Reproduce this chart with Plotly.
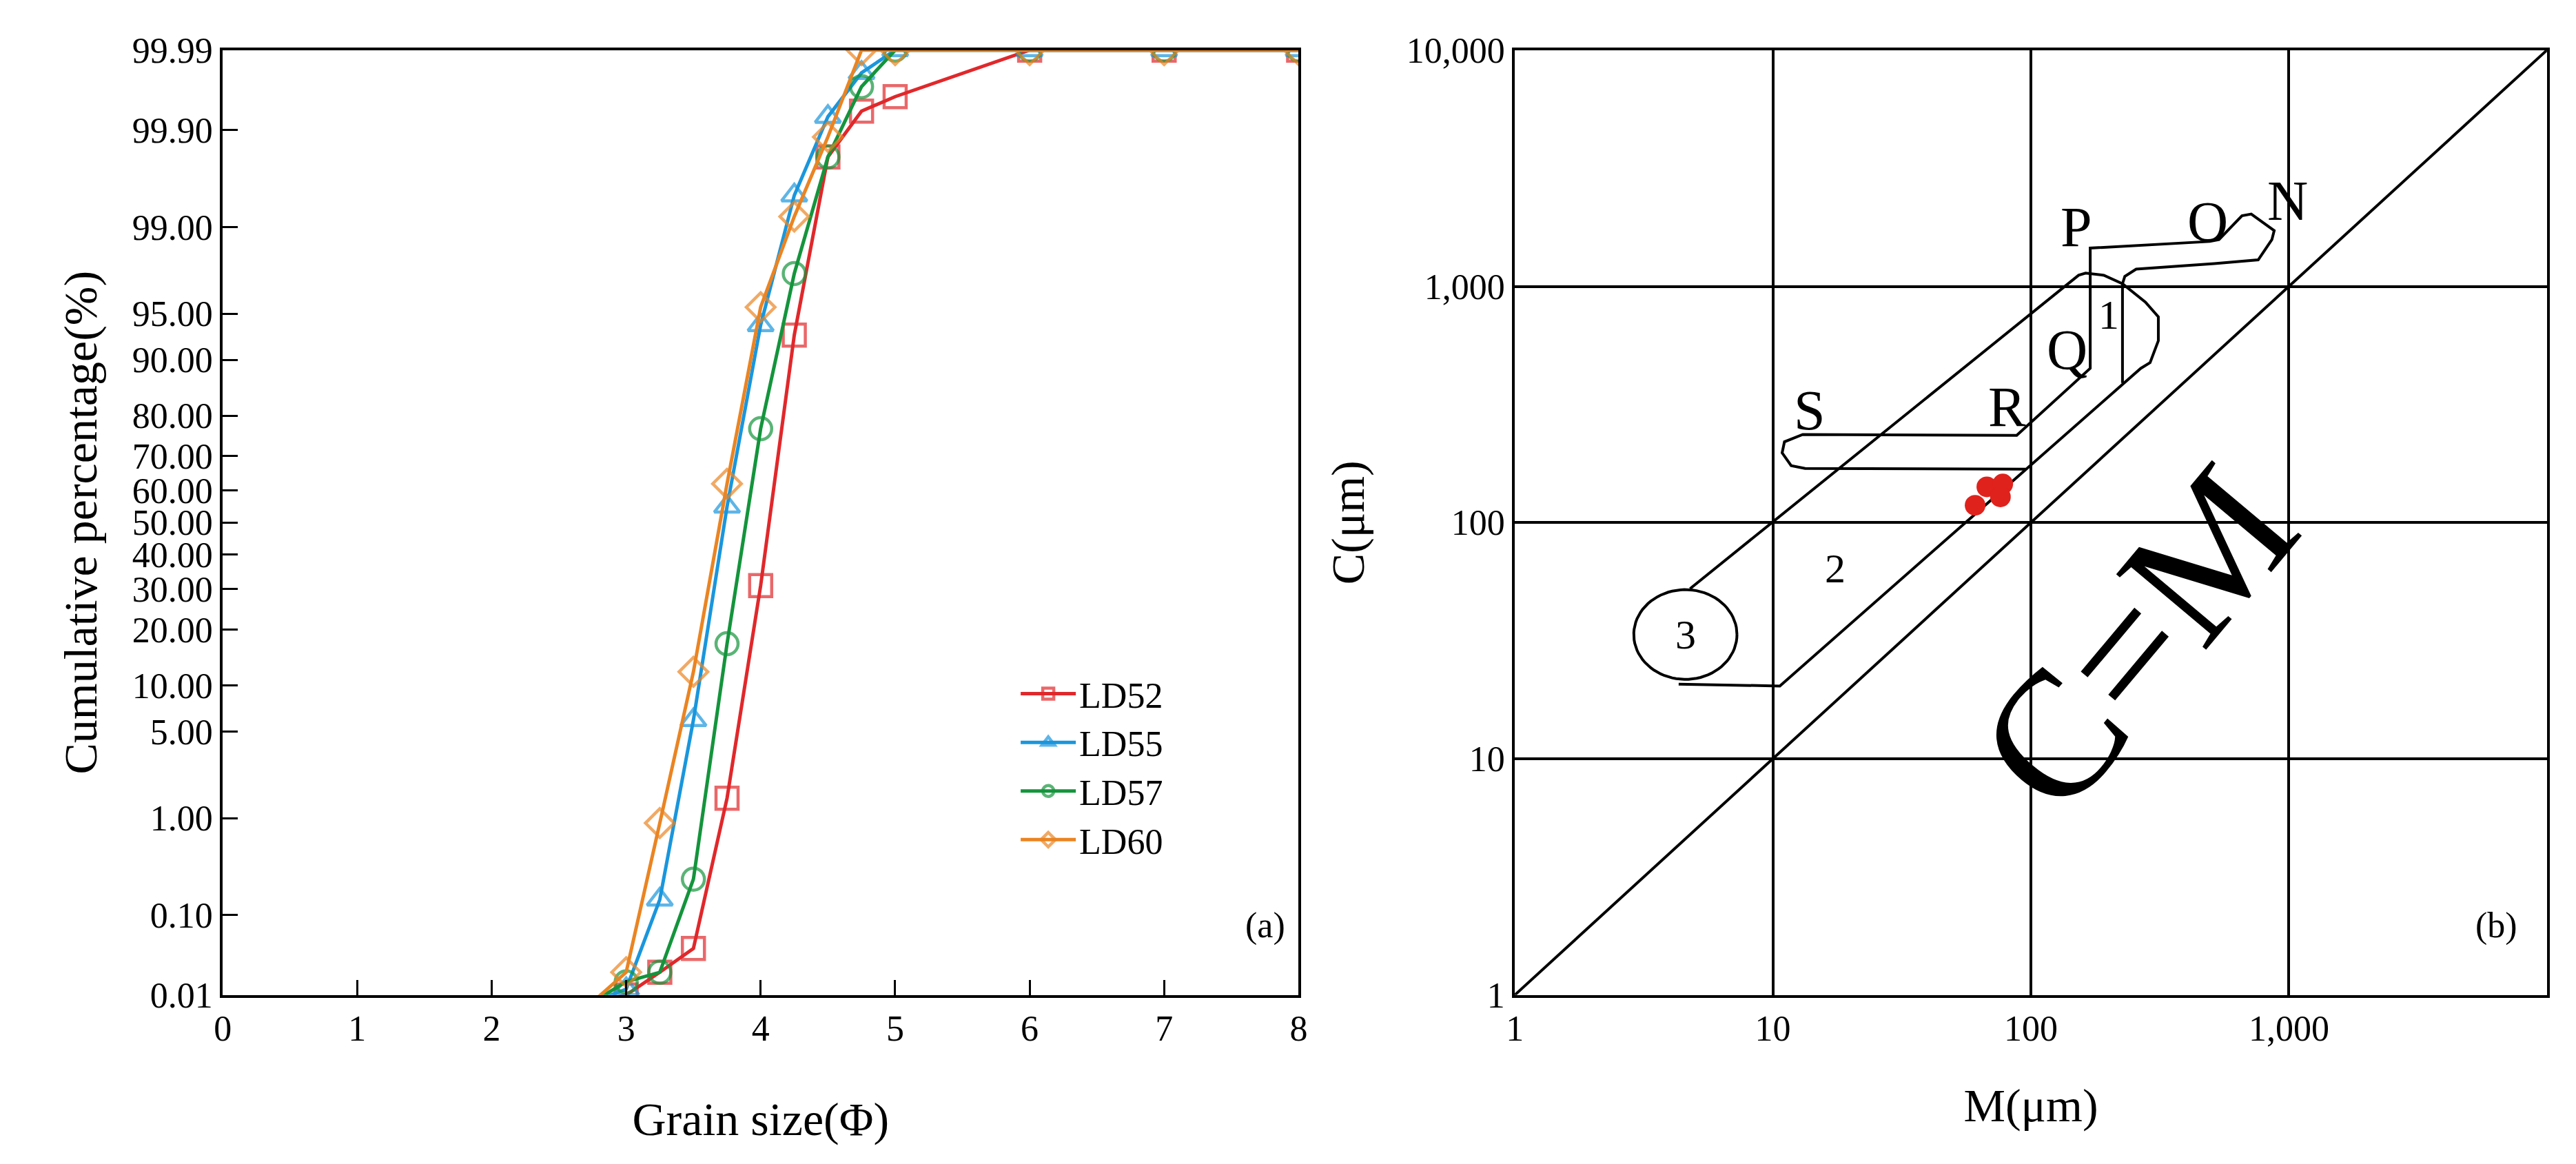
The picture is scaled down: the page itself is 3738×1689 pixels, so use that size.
import numpy as np
import plotly.graph_objects as go
from statistics import NormalDist

# ---------------- data: panel (a) ----------------
phi = [2.75, 3.0, 3.25, 3.5, 3.75, 4.0, 4.25, 4.5, 4.75, 5.0, 6.0, 7.0, 8.0]
LD52 = [0.008, 0.01, 0.02, 0.04, 1.5, 31, 93, 99.8, 99.94, 99.96, 99.99, 99.99, 99.99]
LD55 = [0.008, 0.012, 0.15, 6.0, 55, 94, 99.5, 99.93, 99.98, 99.99, 99.99, 99.99, 99.99]
LD57 = [0.008, 0.015, 0.02, 0.25, 17, 77, 97.5, 99.8, 99.97, 99.99, 99.99, 99.99, 99.99]
LD60 = [0.008, 0.02, 0.9, 12, 62, 95.5, 99.2, 99.88, 99.99, 99.99, 99.99, 99.99, 99.99]
y_ticks = [0.01, 0.10, 1.00, 5.00, 10.00, 20.00, 30.00, 40.00, 50.00, 60.00,
           70.00, 80.00, 90.00, 95.00, 99.00, 99.90, 99.99]
x_ticks_a = [0, 1, 2, 3, 4, 5, 6, 7, 8]

# ---------------- data: panel (b) (log10 coordinates of the C-M outline) ----------------
outer_lx = [0.679, 2.185, 2.212, 2.283, 2.355, 2.444, 2.494, 2.494, 2.462, 2.426, 1.027, 0.635]
outer_ly = [1.720, 3.047, 3.056, 3.047, 3.011, 2.933, 2.871, 2.770, 2.677, 2.653, 1.308, 1.316]
v1_lx = [2.355, 2.355]
v1_ly = [3.011, 2.591]
pq_lx = [1.980, 1.125, 1.071, 1.036, 1.045, 1.116, 1.945, 2.230, 2.230, 2.693, 2.729, 2.818,
         2.854, 2.943, 2.934, 2.881, 2.711, 2.408, 2.364, 2.355]
pq_ly = [2.226, 2.229, 2.241, 2.295, 2.342, 2.373, 2.369, 2.653, 3.162, 3.190, 3.198, 3.299,
         3.306, 3.236, 3.198, 3.112, 3.096, 3.073, 3.042, 3.011]
sample_M = [67.5, 77.8, 76.2, 60.8]
sample_C = [141.6, 145.6, 128.5, 118.3]
labels = ["P", "O", "N", "1", "Q", "R", "S", "2", "3"]
labels_lx = [2.176, 2.684, 2.996, 2.301, 2.141, 1.909, 1.143, 1.241, 0.661]
labels_ly = [3.252, 3.275, 3.361, 2.879, 2.731, 2.490, 2.474, 1.806, 1.526]
log_ticks = [1, 10, 100, 1000, 10000]
log_ticktext = ["1", "10", "100", "1,000", "10,000"]

nd = NormalDist()
def probit(p):
    return nd.inv_cdf(p / 100.0)

FONT = "Liberation Serif"
fig = go.Figure()

series = [("LD52", LD52, "#e0282b", "square-open"),
          ("LD55", LD55, "#1a96dc", "triangle-up-open"),
          ("LD57", LD57, "#14943c", "circle-open"),
          ("LD60", LD60, "#ea8422", "diamond-open")]
for name, vals, col, sym in series:
    sizes = [0] + [32] * (len(vals) - 1)
    fig.add_trace(go.Scatter(
        x=phi, y=[probit(v) for v in vals], name=name, mode="lines+markers",
        line=dict(color=col, width=5),
        marker=dict(symbol=sym, size=sizes, color=col, line=dict(color=col, width=4.5)),
        xaxis="x", yaxis="y"))

lim = probit(99.99)

# panel (b)
blk = dict(color="black", width=4)
def add_b(xs, ys):
    fig.add_trace(go.Scatter(x=xs, y=ys, mode="lines", line=blk,
                             showlegend=False, xaxis="x2", yaxis="y2", hoverinfo="skip"))

add_b([1, 10000], [1, 10000])
add_b([10 ** v for v in outer_lx], [10 ** v for v in outer_ly])
add_b([10 ** v for v in v1_lx], [10 ** v for v in v1_ly])
add_b([10 ** v for v in pq_lx], [10 ** v for v in pq_ly])
t = np.linspace(0, 2 * np.pi, 80)
add_b(10 ** (labels_lx[-1] + 0.2 * np.cos(t)), 10 ** (labels_ly[-1] + 0.19 * np.sin(t)))
fig.add_trace(go.Scatter(x=sample_M, y=sample_C, mode="markers",
                         marker=dict(color="#e0221c", size=30), showlegend=False,
                         xaxis="x2", yaxis="y2"))

ann = []
for s, lx, ly in zip(labels, labels_lx, labels_ly):
    ann.append(dict(x=lx, y=ly, xref="x2", yref="y2", text=s, showarrow=False,
                    font=dict(family=FONT, size=82 if s.isalpha() else 60, color="black")))
ann.append(dict(x=2.41, y=1.51, xref="x2", yref="y2", text="C=M", showarrow=False,
                textangle=-50, font=dict(family=FONT, size=260, color="black")))
ann.append(dict(x=0.489, y=0.18, xref="paper", yref="paper", text="(a)", showarrow=False,
                font=dict(family=FONT, size=52, color="black")))
ann.append(dict(x=0.979, y=0.18, xref="paper", yref="paper", text="(b)", showarrow=False,
                font=dict(family=FONT, size=52, color="black")))

axfont = dict(family=FONT, size=52, color="black")
titlefont = dict(family=FONT, size=68, color="black")
fig.update_layout(
    width=3738, height=1689, margin=dict(l=0, r=0, t=0, b=0),
    paper_bgcolor="white", plot_bgcolor="white",
    font=dict(family=FONT, color="black"),
    annotations=ann,
    xaxis=dict(domain=[0.0814, 0.502], range=[0, 8], tickvals=x_ticks_a,
               ticks="inside", ticklen=22, tickwidth=3, tickcolor="black",
               showline=True, linecolor="black", linewidth=4, mirror=True,
               showgrid=False, zeroline=False, tickfont=axfont,
               title=dict(text="Grain size(Φ)", font=titlefont, standoff=80), anchor="y"),
    yaxis=dict(domain=[0.1374, 0.9775], range=[-lim, lim],
               tickvals=[probit(v) for v in y_ticks], ticktext=[f"{v:.2f}" for v in y_ticks],
               ticks="inside", ticklen=22, tickwidth=3, tickcolor="black",
               showline=True, linecolor="black", linewidth=4, mirror=True,
               showgrid=False, zeroline=False, tickfont=axfont,
               title=dict(text="Cumulative percentage(%)", font=titlefont, standoff=30), anchor="x"),
    xaxis2=dict(domain=[0.5865, 0.990], type="log", range=[-0.0001, 4.0001], tickvals=log_ticks,
                ticktext=log_ticktext, showgrid=True, gridcolor="black", gridwidth=4,
                showline=True, linecolor="black", linewidth=4, mirror=True, ticks="",
                zeroline=False, tickfont=axfont,
                title=dict(text="M(μm)", font=titlefont, standoff=60), anchor="y2"),
    yaxis2=dict(domain=[0.1374, 0.9775], type="log", range=[-0.0001, 4.0001], tickvals=log_ticks,
                ticktext=log_ticktext, showgrid=True, gridcolor="black", gridwidth=4,
                showline=True, linecolor="black", linewidth=4, mirror=True, ticks="",
                zeroline=False, tickfont=axfont,
                title=dict(text="C(μm)", font=titlefont, standoff=40), anchor="x2"),
    legend=dict(x=0.392, y=0.43, xanchor="left", yanchor="top", font=axfont,
                bgcolor="rgba(0,0,0,0)", tracegroupgap=18, itemwidth=80),
)
fig.write_html("out.html")
